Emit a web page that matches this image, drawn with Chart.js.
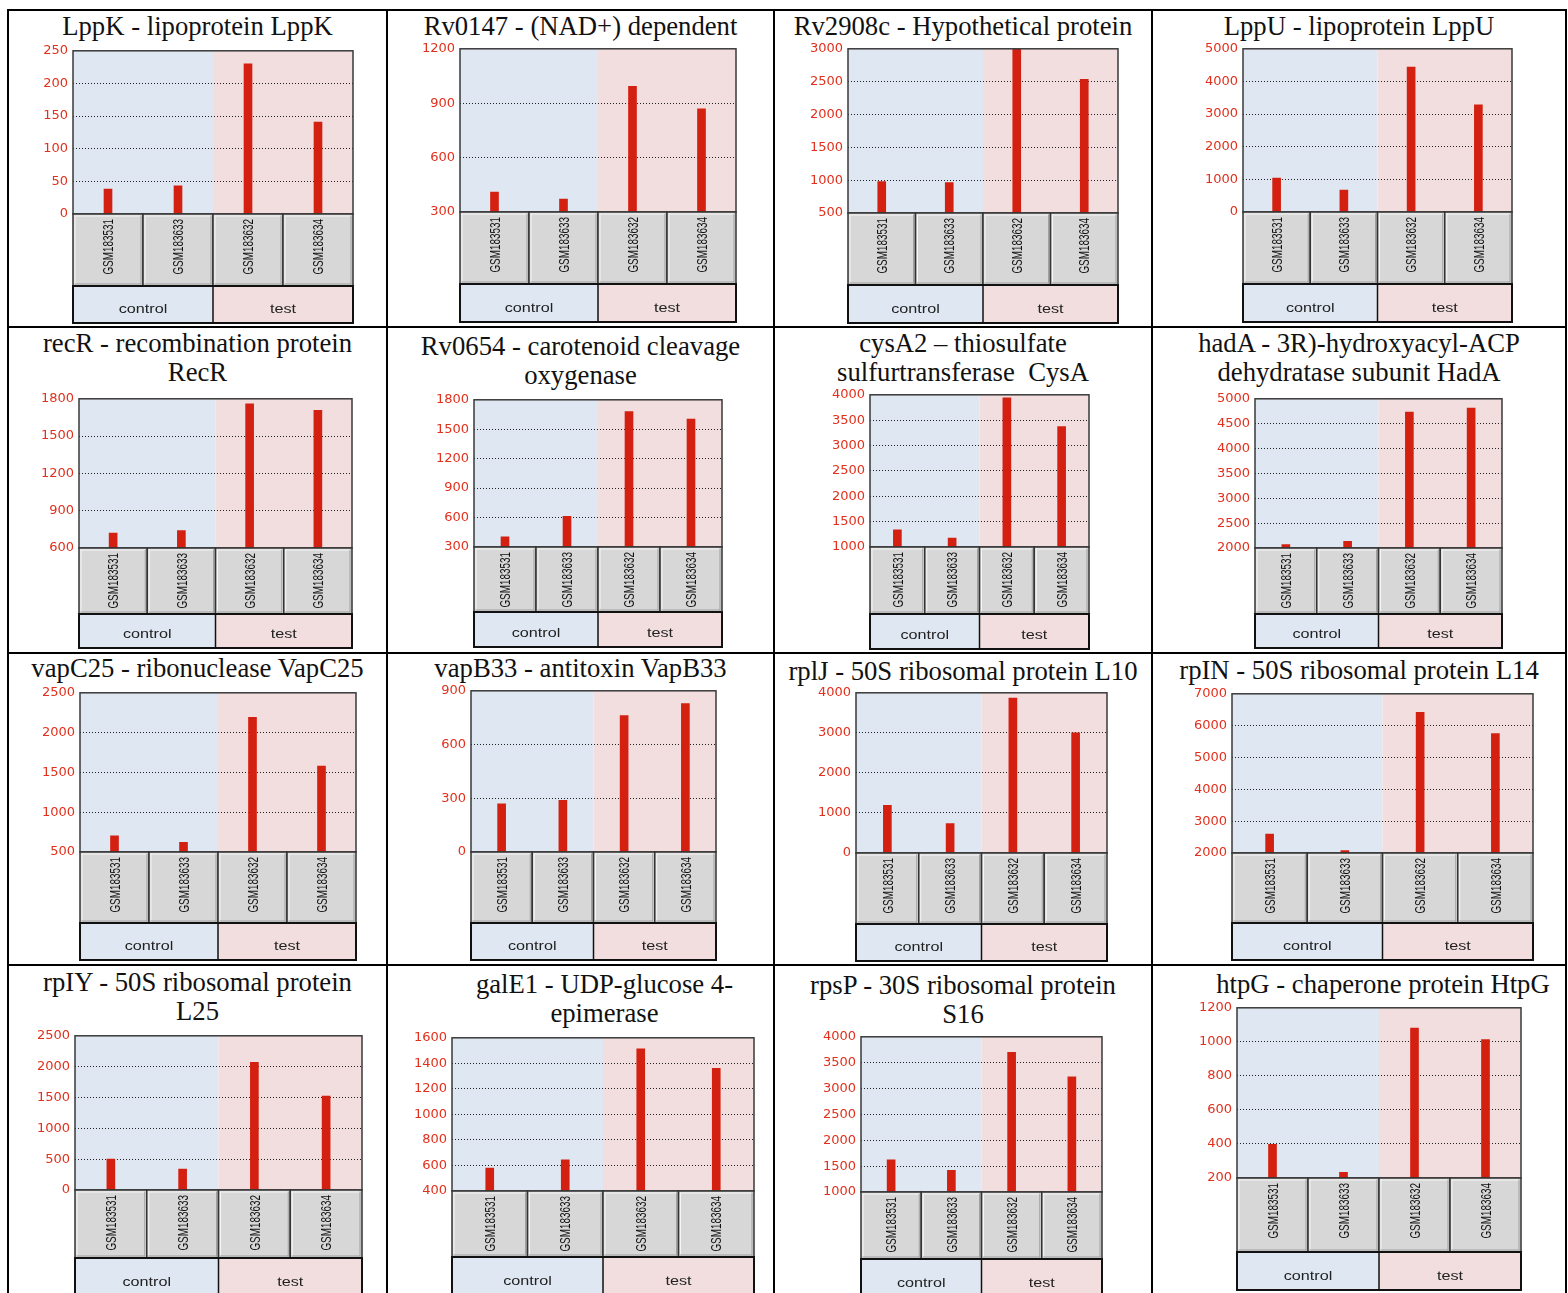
<!DOCTYPE html>
<html>
<head>
<meta charset="utf-8">
<script src="https://cdn.jsdelivr.net/npm/chart.js@4.4.0/dist/chart.umd.min.js"></script>
<style>
  html, body { margin: 0; padding: 0; background: #fff; }
  #page { position: relative; width: 1568px; height: 1293px; overflow: hidden; }
  .rule { position: absolute; background: #000; }
  .title {
    position: absolute; text-align: center; white-space: pre; color: #111;
    font-family: "Liberation Serif", "Times New Roman", serif; font-size: 26.7px; line-height: 29px;
  }
  canvas { position: absolute; }
</style>
</head>
<body>
<div id="page"></div>
<script>
// samples and groups, the same in every panel
const samples = ['GSM183531', 'GSM183633', 'GSM183632', 'GSM183634'];
const groups = ['control', 'test'];

// expression values (sample order as above)
const lppK = [38, 43, 230, 141];
const rv0147 = [410, 371, 993, 869];
const rv2908c = [980, 965, 3000, 2535];
const lppU = [1037, 671, 4441, 3283];
const recR = [720, 741, 1760, 1707];
const rv0654 = [404, 613, 1679, 1604];
const cysA2 = [1339, 1176, 3941, 3374];
const hadA = [2067, 2133, 4733, 4813];
const vapC25 = [704, 621, 2192, 1579];
const vapB33 = [269, 289, 761, 829];
const rplJ = [1193, 737, 3868, 2998];
const rpIN = [2594, 2073, 6417, 5750];
const rpIY = [500, 339, 2070, 1522];
const galE1 = [580, 645, 1514, 1360];
const rpsP = [1622, 1417, 3699, 3224];
const htpG = [398, 233, 1081, 1014];

const geneValues = [lppK, rv0147, rv2908c, lppU, recR, rv0654, cysA2, hadA,
                    vapC25, vapB33, rplJ, rpIN, rpIY, galE1, rpsP, htpG];

const geneTitles = [
  ['LppK - lipoprotein LppK'],
  ['Rv0147 - (NAD+) dependent'],
  ['Rv2908c - Hypothetical protein'],
  ['LppU - lipoprotein LppU'],
  ['recR - recombination protein', 'RecR'],
  ['Rv0654 - carotenoid cleavage', 'oxygenase'],
  ['cysA2 \u2013 thiosulfate', 'sulfurtransferase  CysA'],
  ['hadA - 3R)-hydroxyacyl-ACP', 'dehydratase subunit HadA'],
  ['vapC25 - ribonuclease VapC25'],
  ['vapB33 - antitoxin VapB33'],
  ['rplJ - 50S ribosomal protein L10'],
  ['rpIN - 50S ribosomal protein L14'],
  ['rpIY - 50S ribosomal protein', 'L25'],
  ['galE1 - UDP-glucose 4-', 'epimerase'],
  ['rpsP - 30S ribosomal protein', 'S16'],
  ['htpG - chaperone protein HtpG']
];

// y axis range and tick step of each panel
const axisMin = [0, 300, 500, 0, 600, 300, 1000, 2000, 500, 0, 0, 2000, 0, 400, 1000, 200];
const axisMax = [250, 1200, 3000, 5000, 1800, 1800, 4000, 5000, 2500, 900, 4000, 7000, 2500, 1600, 4000, 1200];
const axisStep = [50, 300, 500, 1000, 300, 300, 500, 500, 500, 300, 1000, 1000, 500, 200, 500, 200];

// page layout: table rules and where each plot sits
const colEdges = [8, 387, 774, 1152, 1566];
const rowEdges = [10, 327, 653, 965, 1310];
// left, top, right, bottom of plot, bottom of sample row, bottom of group row
const plotBoxes = [
  [73, 50, 353, 214, 286, 323], [460, 48, 736, 212, 284, 322],
  [848, 48, 1118, 213, 285, 323], [1243, 48, 1512, 212, 284, 322],
  [79, 398, 352, 548, 614, 648], [474, 399, 722, 547, 612, 647],
  [870, 394, 1089, 547, 614, 649], [1255, 398, 1502, 548, 614, 648],
  [80, 692, 356, 852, 923, 960], [471, 690, 716, 852, 923, 960],
  [856, 692, 1107, 853, 924, 961], [1232, 693, 1533, 853, 923, 960],
  [75, 1035, 362, 1190, 1258, 1296], [452, 1037, 754, 1191, 1257, 1295],
  [861, 1036, 1102, 1192, 1259, 1297], [1237, 1007, 1521, 1178, 1252, 1290]
];
const titleBaselines = [36, 36, 36, 36, 353, 356, 353, 353, 678, 678, 681, 680, 992, 994, 995, 994];
// a couple of titles sit right of the cell centre in the source
const titleShift = [0, 0, 0, 0, 0, 0, 0, 0, 0, 0, 0, 0, 0, 24, 0, 24];

const BLUE = '#dfe8f2';
const PINK = '#f2dede';
const Y_AXIS_W = 60;

const page = document.getElementById('page');

function addRule(x, y, w, h) {
    const d = document.createElement('div');
    d.className = 'rule';
    Object.assign(d.style, { left: x + 'px', top: y + 'px', width: w + 'px', height: h + 'px' });
    page.appendChild(d);
}

colEdges.forEach(x => addRule(x - 1, rowEdges[0] - 1, 2, rowEdges[4] - rowEdges[0]));
rowEdges.forEach(y => addRule(colEdges[0] - 1, y - 1, colEdges[4] - colEdges[0] + 2, 2));

// backgrounds, frame, sample boxes and group boxes around each plot
const panelDecor = {
    id: 'panelDecor',
    beforeDraw(chart) {
        const { ctx, chartArea: a } = chart;
        const x = chart.scales.x;
        const mid = (x.getPixelForValue(1) + x.getPixelForValue(2)) / 2;
        ctx.save();
        ctx.fillStyle = BLUE;
        ctx.fillRect(a.left, a.top, mid - a.left, a.bottom - a.top);
        ctx.fillStyle = PINK;
        ctx.fillRect(mid, a.top, a.right - mid, a.bottom - a.top);
        ctx.restore();
    },
    afterDraw(chart, args, opts) {
        const { ctx, chartArea: a } = chart;
        const x = chart.scales.x;
        const w = (a.right - a.left) / samples.length;
        const mid = (x.getPixelForValue(1) + x.getPixelForValue(2)) / 2;
        const sTop = a.bottom, sBot = opts.sampleBottom, gBot = opts.groupBottom;
        ctx.save();

        // plot frame
        ctx.strokeStyle = '#3a3a3a';
        ctx.lineWidth = 1.5;
        ctx.strokeRect(a.left, a.top, a.right - a.left, a.bottom - a.top);

        // one grey box per sample, label turned up the box
        samples.forEach((s, i) => {
            const l = a.left + i * w;
            const h = sBot - sTop;
            ctx.fillStyle = '#d7d7d7';
            ctx.fillRect(l, sTop, w, h);
            ctx.fillStyle = '#f6f6f6';
            ctx.fillRect(l + 1.5, sTop + 1.5, w - 3, 1);
            ctx.fillRect(l + 1.5, sTop + 1.5, 1, h - 3);
            ctx.fillStyle = '#a0a0a0';
            ctx.fillRect(l + 1.5, sBot - 2.5, w - 3, 1);
            ctx.fillRect(l + w - 2.5, sTop + 1.5, 1, h - 3);
            ctx.strokeStyle = '#333';
            ctx.lineWidth = 1.5;
            ctx.strokeRect(l, sTop, w, h);

            ctx.save();
            ctx.translate(x.getPixelForValue(i), sTop + 5);
            ctx.rotate(-Math.PI / 2);
            ctx.scale(0.66, 1);
            ctx.font = '15px "Liberation Sans", Arial, sans-serif';
            ctx.fillStyle = '#111';
            ctx.textAlign = 'right';
            ctx.textBaseline = 'middle';
            ctx.fillText(s, 0, 1);
            ctx.restore();
        });

        // control / test boxes
        const spans = [[a.left, mid, BLUE], [mid, a.right, PINK]];
        spans.forEach(([l, r, col], gi) => {
            ctx.fillStyle = col;
            ctx.fillRect(l, sBot, r - l, gBot - sBot);
            ctx.save();
            ctx.translate((l + r) / 2, gBot - 10);
            ctx.scale(1.35, 1);
            ctx.font = '12px "Liberation Sans", Arial, sans-serif';
            ctx.fillStyle = '#222';
            ctx.textAlign = 'center';
            ctx.textBaseline = 'alphabetic';
            ctx.fillText(groups[gi], 0, 0);
            ctx.restore();
        });
        ctx.strokeStyle = '#111';
        ctx.lineWidth = 2;
        ctx.strokeRect(a.left, sBot, a.right - a.left, gBot - sBot);
        ctx.lineWidth = 1.5;
        ctx.beginPath();
        ctx.moveTo(mid, sBot);
        ctx.lineTo(mid, gBot);
        ctx.stroke();

        ctx.restore();
    }
};

geneValues.forEach((values, i) => {
    const col = i % 4, row = Math.floor(i / 4);
    const [pl, pt, pr, pb, sb, gb] = plotBoxes[i];

    // title above the plot
    const t = document.createElement('div');
    t.className = 'title';
    t.textContent = geneTitles[i].join('\n');
    Object.assign(t.style, {
        left: (colEdges[col] + titleShift[i]) + 'px',
        width: (colEdges[col + 1] - colEdges[col]) + 'px',
        top: (titleBaselines[i] - 23.6) + 'px'
    });
    page.appendChild(t);

    const cl = pl - Y_AXIS_W, ct = pt - 12;
    const cw = pr + 4 - cl, ch = gb + 2 - ct;
    const canvas = document.createElement('canvas');
    canvas.width = cw;
    canvas.height = ch;
    Object.assign(canvas.style, { left: cl + 'px', top: ct + 'px', width: cw + 'px', height: ch + 'px' });
    page.appendChild(canvas);

    const min = axisMin[i], max = axisMax[i];
    new Chart(canvas, {
        type: 'bar',
        data: {
            labels: samples,
            datasets: [{
                data: values,
                backgroundColor: '#d42010',
                borderWidth: 0,
                barThickness: 8
            }]
        },
        options: {
            responsive: false,
            animation: false,
            devicePixelRatio: 1,
            layout: { padding: { left: 0, top: 12, right: 4, bottom: ch - 12 - (pb - pt) } },
            plugins: {
                legend: { display: false },
                tooltip: { enabled: false },
                panelDecor: { sampleBottom: sb - ct, groupBottom: gb - ct }
            },
            scales: {
                x: { display: false },
                y: {
                    min: min,
                    max: max,
                    afterFit: scale => { scale.width = Y_AXIS_W; },
                    border: { display: false, dash: [1, 2] },
                    grid: {
                        drawTicks: false,
                        color: c => (c.tick && (c.tick.value === min || c.tick.value === max)) ? 'rgba(0,0,0,0)' : '#222'
                    },
                    ticks: {
                        stepSize: axisStep[i],
                        padding: 5,
                        color: '#e2301c',
                        font: { family: '"DejaVu Sans", Verdana, sans-serif', size: 13 },
                        callback: v => String(v)
                    }
                }
            }
        },
        plugins: [panelDecor]
    });
});
</script>
</body>
</html>
